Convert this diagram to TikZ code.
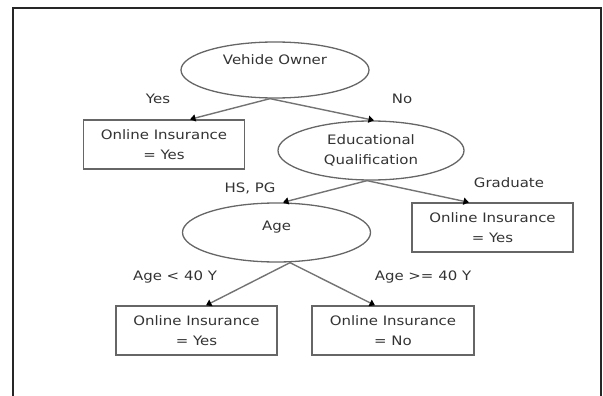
\documentclass[tikz,border=0pt]{standalone}
\usepackage{fontspec}
\setmainfont{DejaVu Sans}[FakeStretch=1.15]
\usepackage{xcolor}
\usetikzlibrary{shapes.geometric}
\usetikzlibrary{arrows.meta}
\usetikzlibrary{positioning}

\begin{document}
\begin{tikzpicture}[
    x=1pt, y=-1pt,
    every node/.style={font=\fontsize{13}{19.5}\selectfont, text=black!80},
    test/.style={ellipse, draw=black!60, line width=1.3pt, inner sep=0pt,
                 minimum width=188pt, minimum height=56pt, align=center},
    leaf/.style={rectangle, draw=black!60, line width=1.3pt, inner sep=0pt,
                 minimum width=161pt, minimum height=49pt, align=center},
    edge label/.style={rectangle, draw=none, inner sep=1pt},
    branch/.style={draw=black!55, line width=1.4pt, -{Triangle[length=5.5pt,width=7pt,black]}},
  ]

  \useasboundingbox (0,0) rectangle (603,396);
  \draw[line width=2pt, black!85] (13,396) -- (13,8) -- (601,8) -- (601,396);

  \node[test, text height=9.5pt, text depth=20pt] (owner) at (275,70)    {Vehide Owner};
  \node[leaf]                                    (yes1)  at (164,144.5) {Online Insurance\\= Yes};
  \node[test, minimum width=186pt, minimum height=59pt] (edu) at (371,150.5) {Educational\\Qualification};
  \node[test, minimum height=59pt, text height=9.5pt, text depth=14pt] (age) at (276.5,232.5) {Age};
  \node[leaf]                                    (grad)  at (492.5,227.5) {Online Insurance\\= Yes};
  \node[leaf]                                    (young) at (196.5,330.5) {Online Insurance\\= Yes};
  \node[leaf, minimum width=162pt]               (old)   at (393,330.5)   {Online Insurance\\= No};

  \draw[branch] ([xshift=-5pt]owner.south) -- ([xshift=26pt]yes1.north);
  \draw[branch] ([xshift=-5pt]owner.south) -- ([xshift=3pt]edu.north);
  \draw[branch] ([xshift=-4pt]edu.south)   -- ([xshift=6.5pt]age.north);
  \draw[branch] ([xshift=-4pt]edu.south)   -- ([xshift=-23.5pt]grad.north);
  \draw[branch] ([xshift=13.5pt]age.south) -- ([xshift=9.5pt]young.north);
  \draw[branch] ([xshift=13.5pt]age.south) -- ([xshift=-18pt]old.north);

  \node[edge label] (lyes)   at (158,99)  {Yes};
  \node[edge label] (lno)    at (402,99)  {No};
  \node[edge label] (lhspg)  at (250,188) {HS, PG};
  \node[edge label] (lgrad)  at (509,183) {Graduate};
  \node[edge label] (lyoung) at (175,277) {Age < 40 Y};
  \node[edge label] (lold)   at (423,277) {Age >= 40 Y};

\end{tikzpicture}
\end{document}
